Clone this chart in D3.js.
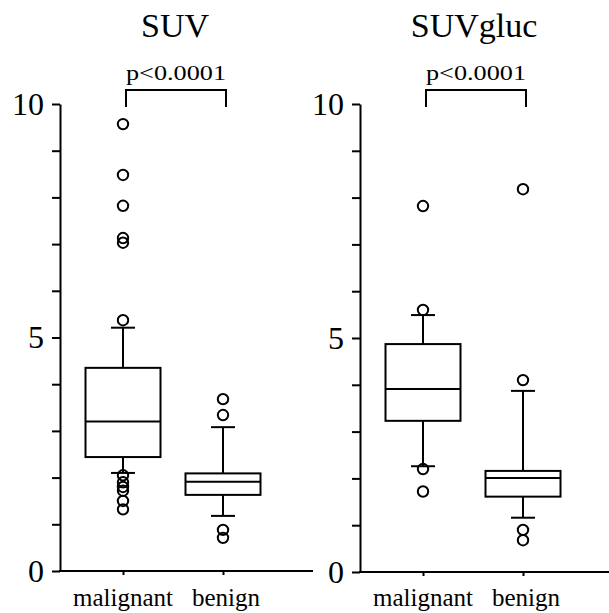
<!DOCTYPE html>
<html>
<head>
<meta charset="utf-8">
<script src="https://cdn.jsdelivr.net/npm/d3@7"></script>
<style>
  html, body { margin: 0; padding: 0; background: #fff; }
  svg { display: block; }
  svg text { font-family: "Liberation Serif", "Times New Roman", serif !important; fill: #000; }
</style>
</head>
<body>
<svg id="chart" width="609" height="613"></svg>
<script>
// ---- data ----
const categories = ["malignant", "benign"];
const panelTitles = ["SUV", "SUVgluc"];
const pValueLabels = ["p<0.0001", "p<0.0001"];
const yTickValues = [0, 1, 2, 3, 4, 5, 6, 7, 8, 9, 10];
const yTickLabels = [0, 5, 10];

// [lower whisker, Q1, median, Q3, upper whisker] per category
const suvMalignant = [2.1, 2.44, 3.2, 4.35, 5.21];
const suvBenign = [1.18, 1.63, 1.91, 2.09, 3.08];
const suvMalignantOutliers = [9.57, 8.48, 7.82, 7.13, 7.03, 5.37, 2.05, 1.9, 1.8, 1.72, 1.5, 1.32];
const suvBenignOutliers = [3.68, 3.34, 0.88, 0.71];

const glucMalignant = [2.26, 3.23, 3.91, 4.87, 5.49];
const glucBenign = [1.16, 1.61, 2.01, 2.16, 3.87];
const glucMalignantOutliers = [7.82, 5.6, 2.2, 1.72];
const glucBenignOutliers = [8.18, 4.1, 0.9, 0.68];

// ---- layout ----
const svg = d3.select("#chart");
const FONT = "'Liberation Serif', 'Times New Roman', serif";
const panels = [
  { axisX: 60, xEnd: 313, y0: 571, y1: 104, cat: [123, 223], titleX: 175,
    stats: [suvMalignant, suvBenign], outliers: [suvMalignantOutliers, suvBenignOutliers] },
  { axisX: 360, xEnd: 609, y0: 572, y1: 104, cat: [423, 523], titleX: 474,
    stats: [glucMalignant, glucBenign], outliers: [glucMalignantOutliers, glucBenignOutliers] }
];
const boxW = 75, capW = 24, lw = 2;

panels.forEach((p, i) => {
  const g = svg.append("g").attr("font-family", FONT);
  const y = d3.scaleLinear().domain([0, 10]).range([p.y0, p.y1]);
  const x = d3.scalePoint().domain(categories).range(p.cat);

  // title
  g.append("text").attr("x", p.titleX).attr("y", 37)
    .attr("text-anchor", "middle").style("font-size", "34px").text(panelTitles[i]);

  // p-value and bracket
  const bx0 = x(categories[0]) + 3, bx1 = x(categories[1]) + 3;
  g.append("text").attr("x", (bx0 + bx1) / 2).attr("y", 80)
    .attr("text-anchor", "middle").style("font-size", "22px")
    .attr("textLength", 100).attr("lengthAdjust", "spacingAndGlyphs")
    .text(pValueLabels[i]);
  g.append("path")
    .attr("d", `M${bx0},107V90H${bx1}V107`)
    .attr("fill", "none").attr("stroke", "#000").attr("stroke-width", lw);

  // y axis
  const yAxis = d3.axisLeft(y).tickValues(yTickValues).tickSize(8).tickSizeOuter(0)
    .tickFormat(d => yTickLabels.includes(d) ? d : "");
  const ya = g.append("g").attr("transform", `translate(${p.axisX},0)`).call(yAxis)
    .attr("font-family", FONT);
  ya.selectAll("path, line").attr("stroke", "#000").attr("stroke-width", lw);
  ya.selectAll("text").style("font-size", "32px")
    .attr("x", -16).attr("dy", "0.32em");

  // x axis
  const xAxis = d3.axisBottom(x).tickSize(4).tickSizeOuter(0).tickFormat("");
  const xa = g.append("g").attr("transform", `translate(0,${p.y0})`).call(xAxis);
  xa.select(".domain").remove();
  xa.selectAll("line").attr("stroke", "#000").attr("stroke-width", lw);
  g.append("line").attr("x1", p.axisX - 1).attr("x2", p.xEnd)
    .attr("y1", p.y0).attr("y2", p.y0).attr("stroke", "#000").attr("stroke-width", lw);
  categories.forEach(c => {
    g.append("text").attr("x", x(c) + (c === "benign" ? 3 : 0)).attr("y", 606)
      .attr("text-anchor", "middle").style("font-size", "25px").text(c);
  });

  // boxes
  categories.forEach((c, k) => {
    const s = p.stats[k];
    const cx = x(c);
    const bg = g.append("g").attr("stroke", "#000").attr("stroke-width", lw).attr("fill", "none");
    // whiskers
    bg.append("line").attr("x1", cx).attr("x2", cx).attr("y1", y(s[3])).attr("y2", y(s[4]));
    bg.append("line").attr("x1", cx).attr("x2", cx).attr("y1", y(s[1])).attr("y2", y(s[0]));
    bg.append("line").attr("x1", cx - capW / 2).attr("x2", cx + capW / 2).attr("y1", y(s[4])).attr("y2", y(s[4]));
    bg.append("line").attr("x1", cx - capW / 2).attr("x2", cx + capW / 2).attr("y1", y(s[0])).attr("y2", y(s[0]));
    // box
    bg.append("rect").attr("x", cx - boxW / 2).attr("width", boxW)
      .attr("y", y(s[3])).attr("height", y(s[1]) - y(s[3])).attr("fill", "#fff");
    bg.append("line").attr("x1", cx - boxW / 2).attr("x2", cx + boxW / 2).attr("y1", y(s[2])).attr("y2", y(s[2]));
    // outliers
    bg.selectAll("circle").data(p.outliers[k]).enter().append("circle")
      .attr("cx", cx).attr("cy", d => y(d)).attr("r", 5.2)
      .attr("fill", "none").attr("stroke-width", 2);
  });
});
</script>
</body>
</html>
